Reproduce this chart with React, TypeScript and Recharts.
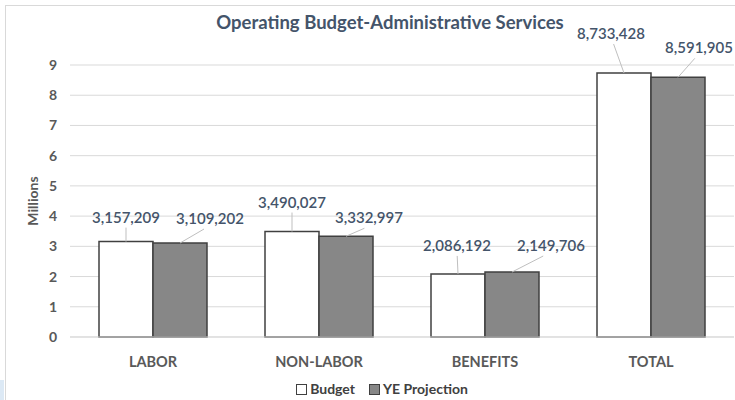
import { Bar, BarChart, CartesianGrid, LabelList, XAxis, YAxis } from "recharts";

const categories = ["LABOR", "NON-LABOR", "BENEFITS", "TOTAL"];
const budget = [3157209, 3490027, 2086192, 8733428];
const yeProjection = [3109202, 3332997, 2149706, 8591905];
const yTicks = [0, 1, 2, 3, 4, 5, 6, 7, 8, 9];

// manually dragged label positions (dx, dy from bar top centre), as in the source sheet
const budgetLabelOffsets = [
  [0, -25],
  [0, -30],
  [-1, -29],
  [-13, -40],
];
const yeLabelOffsets = [
  [30, -25],
  [23, -19],
  [39, -27],
  [21, -30],
];

const chartData = categories.map((name, i) => ({
  name,
  budget: budget[i],
  ye: yeProjection[i],
}));

const FONT = "Lato, 'Open Sans', sans-serif";
const LABEL_COLOR = "#44546a";

const fmt = (v: number) => v.toLocaleString("en-US");

function makeLabel(offsets: number[][]) {
  return (props: any) => {
    const { x, y, width, value, index } = props;
    const cx = Number(x) + Number(width) / 2;
    const top = Number(y);
    const [dx, dy] = offsets[index];
    const lx = cx + dx;
    const ly = top + dy;
    return (
      <g>
        <line x1={cx} y1={top} x2={lx - dx * 0.2} y2={ly + 11} stroke="#bfbfbf" strokeWidth={1} />
        <text
          x={lx}
          y={ly}
          textAnchor="middle"
          dominantBaseline="central"
          fill={LABEL_COLOR}
          fontSize={15}
          fontWeight={600}
          fontFamily={FONT}
        >
          {fmt(value)}
        </text>
      </g>
    );
  };
}

function ChartLegend() {
  const items = [
    { label: "Budget", fill: "#ffffff" },
    { label: "YE Projection", fill: "#878787" },
  ];
  return (
    <div
      style={{
        position: "absolute",
        left: 0,
        width: 764,
        top: 380,
        display: "flex",
        justifyContent: "center",
        gap: 14,
        fontFamily: FONT,
        lineHeight: "18px",
      }}
    >
      {items.map((it) => (
        <div key={it.label} style={{ display: "flex", alignItems: "center", gap: 3 }}>
          <span
            style={{
              width: 9,
              height: 9,
              background: it.fill,
              border: "1.5px solid #404040",
              display: "inline-block",
            }}
          />
          <span style={{ fontSize: 14, fontWeight: 700, color: "#404040" }}>{it.label}</span>
        </div>
      ))}
    </div>
  );
}

function MillionsLabel(props: any) {
  const { viewBox } = props;
  const x = viewBox.x + 32;
  const y = viewBox.y + viewBox.height / 2;
  return (
    <text
      x={x}
      y={y}
      transform={`rotate(-90 ${x} ${y})`}
      textAnchor="middle"
      dominantBaseline="central"
      fill="#595959"
      fontSize={14}
      fontWeight={700}
      fontFamily={FONT}
    >
      Millions
    </text>
  );
}

export default function App() {
  return (
    <div
      style={{
        position: "fixed",
        left: 0,
        top: 0,
        width: 735,
        height: 400,
        background: "#fff",
        overflow: "hidden",
      }}
    >
      <div
        style={{
          position: "absolute",
          left: 5,
          top: 5,
          width: 740,
          height: 400,
          borderLeft: "1px solid #d9d9d9",
          borderTop: "1px solid #d9d9d9",
        }}
      />
      <div style={{ position: "absolute", left: 0, top: 380, width: 4, height: 20, background: "#dce9f5" }} />
      <div
        style={{
          position: "absolute",
          left: 0,
          width: 780,
          top: 11,
          textAlign: "center",
          fontFamily: FONT,
          fontWeight: 700,
          fontSize: 18.5,
          color: LABEL_COLOR,
        }}
      >
        Operating Budget-Administrative Services
      </div>
      <BarChart
        width={735}
        height={400}
        data={chartData}
        margin={{ top: 65, right: 1, bottom: 23, left: 0 }}
        barSize={54}
        barGap={0}
        style={{ position: "absolute", left: 0, top: 0 }}
      >
        <CartesianGrid vertical={false} stroke="#d9d9d9" />
        <XAxis
          dataKey="name"
          height={40}
          axisLine={{ stroke: "#d9d9d9" }}
          tickLine={false}
          tickMargin={14}
          tick={{ fill: "#595959", fontSize: 14.5, fontWeight: 700, fontFamily: FONT }}
        />
        <YAxis
          width={70}
          domain={[0, 9000000]}
          ticks={yTicks.map((t) => t * 1000000)}
          tickFormatter={(v: number) => String(v / 1000000)}
          axisLine={false}
          tickLine={false}
          tickSize={0}
          tickMargin={13}
          tick={{ fill: "#595959", fontSize: 14, fontWeight: 700, fontFamily: FONT }}
          label={<MillionsLabel />}
        />
        <Bar dataKey="budget" fill="#ffffff" stroke="#404040" strokeWidth={1.5} isAnimationActive={false}>
          <LabelList dataKey="budget" content={makeLabel(budgetLabelOffsets)} />
        </Bar>
        <Bar dataKey="ye" fill="#878787" stroke="#404040" strokeWidth={1.5} isAnimationActive={false}>
          <LabelList dataKey="ye" content={makeLabel(yeLabelOffsets)} />
        </Bar>
      </BarChart>
      <ChartLegend />
    </div>
  );
}
